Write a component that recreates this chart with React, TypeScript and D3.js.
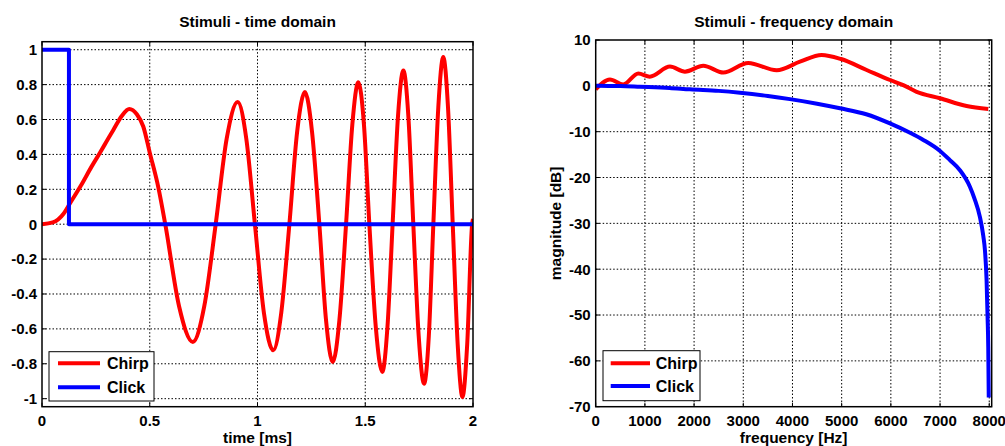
import React from "react";
import * as d3 from "d3";

// ---- Time-domain data ----
const chirpT = [0, 0.05, 0.1, 0.13, 0.18, 0.23, 0.269, 0.3, 0.331, 0.37, 0.405, 0.44, 0.47, 0.5, 0.54, 0.572,
  0.636, 0.7, 0.753, 0.806, 0.857, 0.908, 0.948, 0.988, 1.03, 1.073, 1.11, 1.148,
  1.184, 1.22, 1.253, 1.287, 1.318, 1.349, 1.38, 1.411, 1.44, 1.468, 1.494, 1.519,
  1.549, 1.579, 1.603, 1.627, 1.652, 1.677, 1.7, 1.723, 1.748, 1.773, 1.795, 1.816,
  1.839, 1.862, 1.884, 1.906, 1.929, 1.951, 1.973, 1.996, 2.0];
const chirpV = [0, 0.01, 0.06, 0.12, 0.22, 0.33, 0.41, 0.475, 0.54, 0.62, 0.66, 0.63, 0.56, 0.41, 0.21, 0,
  -0.47, -0.675, -0.47, 0, 0.49, 0.7, 0.49, 0, -0.51, -0.723, -0.51, 0,
  0.53, 0.757, 0.53, 0, -0.55, -0.79, -0.55, 0, 0.57, 0.814, 0.57, 0,
  -0.59, -0.847, -0.59, 0, 0.62, 0.881, 0.62, 0, -0.64, -0.914, -0.64, 0,
  0.67, 0.958, 0.67, 0, -0.69, -0.99, -0.69, 0, 0.03];
const clickT = [0, 0.125, 0.125, 2.0];
const clickV = [1, 1, 0, 0];

// ---- Frequency-domain data ----
const chirpF = [0, 290, 560, 866, 1100, 1510, 1815, 2187, 2594, 3100, 3680, 4152, 4593, 4986, 5508, 5982, 6252, 6524, 6998, 7540, 7980];
const chirpDB = [-0.75, 1.4, 0.3, 2.7, 2.0, 4.2, 3.1, 4.4, 2.9, 5.0, 3.4, 5.26, 6.75, 5.85, 3.45, 1.27, 0.17, -1.3, -2.7, -4.4, -5.06];
const clickF = [0, 500, 900, 1500, 1917, 2500, 2933, 3500, 3950, 4500, 4966, 5500, 5982, 6400, 6660, 7000, 7200, 7404, 7607, 7700, 7810, 7880, 7912, 7946, 7966, 7980, 7990];
const clickDB = [0, -0.05, -0.2, -0.45, -0.77, -1.1, -1.5, -2.2, -2.9, -3.9, -4.9, -6.2, -8.2, -10.3, -11.8, -14.2, -16.2, -18.4, -22, -24.6, -28.6, -32.8, -35.8, -42.4, -50.4, -57, -68];

// ---- Ticks ----
const timeTicks = [0, 0.5, 1, 1.5, 2];
const ampTicks = [1, 0.8, 0.6, 0.4, 0.2, 0, -0.2, -0.4, -0.6, -0.8, -1];
const freqTicks = [0, 1000, 2000, 3000, 4000, 5000, 6000, 7000, 8000];
const dbTicks = [10, 0, -10, -20, -30, -40, -50, -60, -70];
const legendLabels = ["Chirp", "Click"];

const RED = "#ff0000";
const BLUE = "#0000ff";
const FONT = "'Liberation Sans', Arial, Helvetica, sans-serif";

type Series = { xs: number[]; ys: number[]; color: string; curve: d3.CurveFactory };

function Panel(props: {
  id: string;
  left: number; right: number; top: number; bottom: number;
  xDomain: [number, number]; yDomain: [number, number];
  xTicks: number[]; yTicks: number[];
  title: string; xLabel: string; yLabel?: string;
  series: Series[];
  legend: { x0: number; y0: number; x1: number; y1: number; lx0: number; lx1: number; tx: number; ly: number[] };
}) {
  const { left, right, top, bottom } = props;
  const x = d3.scaleLinear().domain(props.xDomain).range([left, right]);
  const y = d3.scaleLinear().domain(props.yDomain).range([bottom, top]);
  const cx = (left + right) / 2;
  const cy = (top + bottom) / 2;
  const tl = 4;
  const fs = 15;
  const fl = 15.5;
  return (
    <g>
      <defs>
        <clipPath id={props.id}>
          <rect x={left} y={top - 2} width={right - left} height={bottom - top + 4} />
        </clipPath>
      </defs>
      <rect x={left} y={top} width={right - left} height={bottom - top} fill="#fff" />
      {/* grid */}
      {props.xTicks.map((t) => {
        const px = x(t);
        if (Math.abs(px - left) < 1 || Math.abs(px - right) < 1) return null;
        return <line key={"gx" + t} x1={px} x2={px} y1={top} y2={bottom} stroke="#000" strokeWidth={1} strokeDasharray="1.5,2" />;
      })}
      {props.yTicks.map((t) => {
        const py = y(t);
        if (Math.abs(py - top) < 1 || Math.abs(py - bottom) < 1) return null;
        return <line key={"gy" + t} x1={left} x2={right} y1={py} y2={py} stroke="#000" strokeWidth={1} strokeDasharray="1.5,2" />;
      })}
      {/* tick marks */}
      {props.xTicks.map((t) => (
        <g key={"tx" + t}>
          <line x1={x(t)} x2={x(t)} y1={bottom} y2={bottom - tl} stroke="#000" />
          <line x1={x(t)} x2={x(t)} y1={top} y2={top + tl} stroke="#000" />
        </g>
      ))}
      {props.yTicks.map((t) => (
        <g key={"ty" + t}>
          <line x1={left} x2={left + tl} y1={y(t)} y2={y(t)} stroke="#000" />
          <line x1={right} x2={right - tl} y1={y(t)} y2={y(t)} stroke="#000" />
        </g>
      ))}
      {/* data */}
      <g clipPath={`url(#${props.id})`}>
        {props.series.map((s, i) => {
          const line = d3.line<[number, number]>().x((d) => x(d[0])).y((d) => y(d[1])).curve(s.curve);
          return (
            <path key={i} d={line(s.xs.map((v, j) => [v, s.ys[j]] as [number, number])) || ""} fill="none" stroke={s.color} strokeWidth={4} strokeLinejoin="round" />
          );
        })}
      </g>
      {/* frame */}
      <rect x={left} y={top} width={right - left} height={bottom - top} fill="none" stroke="#000" strokeWidth={1.5} />
      {/* tick labels */}
      {props.xTicks.map((t) => (
        <text key={"lx" + t} x={x(t)} y={426} textAnchor="middle" fontSize={fs} fontWeight="bold" fontFamily={FONT}>{String(t)}</text>
      ))}
      {props.yTicks.map((t) => (
        <text key={"ly" + t} x={left - 5} y={y(t)} dy="0.36em" textAnchor="end" fontSize={fs} fontWeight="bold" fontFamily={FONT}>{String(t)}</text>
      ))}
      {/* title & labels */}
      <text x={cx} y={27} textAnchor="middle" fontSize={fl} fontWeight="bold" fontFamily={FONT}>{props.title}</text>
      <text x={cx} y={443} textAnchor="middle" fontSize={fl} fontWeight="bold" fontFamily={FONT}>{props.xLabel}</text>
      {props.yLabel && (
        <text transform={`translate(561,${cy}) rotate(-90)`} textAnchor="middle" fontSize={fl} fontWeight="bold" fontFamily={FONT}>{props.yLabel}</text>
      )}
      {/* legend */}
      <rect x={props.legend.x0} y={props.legend.y0} width={props.legend.x1 - props.legend.x0} height={props.legend.y1 - props.legend.y0} fill="#fff" stroke="#000" strokeWidth={1} />
      {props.series.map((s, i) => (
        <g key={"lg" + i}>
          <line x1={props.legend.lx0} x2={props.legend.lx1} y1={props.legend.ly[i]} y2={props.legend.ly[i]} stroke={s.color} strokeWidth={4} />
          <text x={props.legend.tx} y={props.legend.ly[i]} dy="0.36em" fontSize={fs + 1} fontWeight="bold" fontFamily={FONT}>{legendLabels[i]}</text>
        </g>
      ))}
    </g>
  );
}

export default function App() {
  return (
    <svg width={1005} height={446} style={{ position: "absolute", left: 0, top: 0, background: "#fff" }}>
      <rect x={0} y={0} width={1005} height={446} fill="#fff" />
      <Panel
        id="clipL"
        left={42} right={473} top={41.7} bottom={406.7}
        xDomain={[0, 2]} yDomain={[-1.046, 1.046]}
        xTicks={timeTicks} yTicks={ampTicks}
        title="Stimuli - time domain" xLabel="time [ms]"
        series={[
          { xs: chirpT, ys: chirpV, color: RED, curve: d3.curveMonotoneX },
          { xs: clickT, ys: clickV, color: BLUE, curve: d3.curveLinear },
        ]}
        legend={{ x0: 49, y0: 351.7, x1: 154, y1: 401, lx0: 58, lx1: 100, tx: 107, ly: [363.3, 387.3] }}
      />
      <Panel
        id="clipR"
        left={595.7} right={991.7} top={40} bottom={406.7}
        xDomain={[0, 8050]} yDomain={[-70, 10]}
        xTicks={freqTicks} yTicks={dbTicks}
        title="Stimuli - frequency domain" xLabel="frequency [Hz]" yLabel="magnitude [dB]"
        series={[
          { xs: chirpF, ys: chirpDB, color: RED, curve: d3.curveMonotoneX },
          { xs: clickF, ys: clickDB, color: BLUE, curve: d3.curveMonotoneX },
        ]}
        legend={{ x0: 603, y0: 350.7, x1: 700, y1: 400.7, lx0: 610.7, lx1: 650, tx: 655.7, ly: [363.3, 386] }}
      />
    </svg>
  );
}
